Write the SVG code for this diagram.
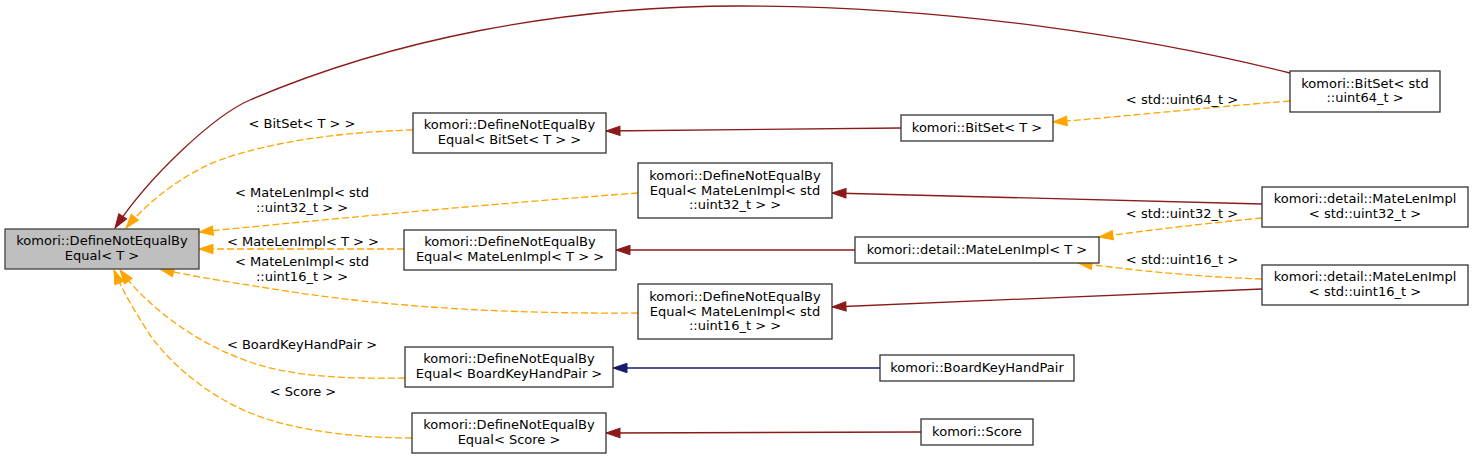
<svg xmlns="http://www.w3.org/2000/svg" width="1473" height="459" viewBox="0 0 1473 459">
<style>
text{font-family:"DejaVu Sans","Liberation Sans",sans-serif;font-size:13px;fill:#000;text-anchor:middle}
.n rect{fill:#fff;stroke:#333;stroke-width:1.3}
.n.root rect{fill:#bfbfbf;stroke:#404040}
.e path{fill:none;stroke-width:1.3}
.red{stroke:#8b1a1a;marker-end:url(#mr)}
.blue{stroke:#191970;marker-end:url(#mb)}
.tmpl{stroke:#ffa500;stroke-dasharray:7,3;marker-end:url(#mo)}
</style>
<defs>
<marker id="mr" markerUnits="userSpaceOnUse" markerWidth="16" markerHeight="12" refX="14" refY="5.5" orient="auto" overflow="visible"><path d="M0,0.8 L14,5.5 L0,10.2 Z" fill="#8b1a1a" stroke="#8b1a1a" stroke-width="1"/></marker>
<marker id="mb" markerUnits="userSpaceOnUse" markerWidth="16" markerHeight="12" refX="14" refY="5.5" orient="auto" overflow="visible"><path d="M0,0.8 L14,5.5 L0,10.2 Z" fill="#191970" stroke="#191970" stroke-width="1"/></marker>
<marker id="mo" markerUnits="userSpaceOnUse" markerWidth="16" markerHeight="12" refX="14" refY="5.5" orient="auto" overflow="visible"><path d="M0,0.8 L14,5.5 L0,10.2 Z" fill="#ffa500" stroke="#ffa500" stroke-width="1"/></marker>
</defs>
<g id="connectors" class="e">
<path class="red" d="M1290,73 C1150,38 950,6 740,6 C560,6 390,40 250,100 C215,115 150,175 115,228"/>
<path class="tmpl" d="M1290,101 C1200,108 1120,117 1053,122"/>
<path class="red" d="M901,128 L606,131"/>
<path class="tmpl" d="M413,130 C340,132 270,142 220,160 C180,175 145,205 126,228"/>
<path class="red" d="M1262,204 C1100,200 950,195 832,193"/>
<path class="tmpl" d="M1262,218 C1200,224 1150,230 1099,237"/>
<path class="tmpl" d="M638,193 C500,203 320,220 199,232"/>
<path class="red" d="M855,250 L616,250"/>
<path class="tmpl" d="M404,249 L199,249"/>
<path class="tmpl" d="M1262,279 C1200,277 1140,271 1078,263"/>
<path class="red" d="M1262,289 C1100,296 950,302 832,307"/>
<path class="tmpl" d="M638,313 C520,314 400,308 300,293 C240,284 190,276 160,269"/>
<path class="blue" d="M880,368 L613,368"/>
<path class="tmpl" d="M405,378 C340,379 290,376 250,362 C200,345 150,310 120,270"/>
<path class="red" d="M921,432 L606,433"/>
<path class="tmpl" d="M412,438 C360,438 310,432 270,420 C220,405 175,370 150,335 C135,312 122,290 114,270"/>
</g>
<g id="edge-labels">
<text x="1182" y="104">&lt; std::uint64_t &gt;</text>
<text x="302" y="127.5">&lt; BitSet&lt; T &gt; &gt;</text>
<text x="302" y="197">&lt; MateLenImpl&lt; std</text>
<text x="302" y="211.5">::uint32_t &gt; &gt;</text>
<text x="1182" y="217.5">&lt; std::uint32_t &gt;</text>
<text x="303" y="246">&lt; MateLenImpl&lt; T &gt; &gt;</text>
<text x="1182" y="263.5">&lt; std::uint16_t &gt;</text>
<text x="302" y="266">&lt; MateLenImpl&lt; std</text>
<text x="302" y="280.7">::uint16_t &gt; &gt;</text>
<text x="302" y="348.5">&lt; BoardKeyHandPair &gt;</text>
<text x="303" y="395.5">&lt; Score &gt;</text>
</g>
<g id="root" class="n root"><rect x="5" y="229" width="194" height="40"/><text x="102" y="245">komori::DefineNotEqualBy</text><text x="102" y="259.7">Equal&lt; T &gt;</text></g>
<g id="dne_bitset" class="n"><rect x="413" y="113" width="193" height="40"/><text x="509.5" y="129">komori::DefineNotEqualBy</text><text x="509.5" y="143.7">Equal&lt; BitSet&lt; T &gt; &gt;</text></g>
<g id="dne_mate32" class="n"><rect x="638" y="163" width="194" height="55"/><text x="735" y="180">komori::DefineNotEqualBy</text><text x="735" y="194.5">Equal&lt; MateLenImpl&lt; std</text><text x="735" y="209.2">::uint32_t &gt; &gt;</text></g>
<g id="dne_mateT" class="n"><rect x="404" y="230" width="212" height="40"/><text x="510" y="246">komori::DefineNotEqualBy</text><text x="510" y="260.7">Equal&lt; MateLenImpl&lt; T &gt; &gt;</text></g>
<g id="dne_mate16" class="n"><rect x="638" y="284" width="194" height="55"/><text x="735" y="301">komori::DefineNotEqualBy</text><text x="735" y="315.5">Equal&lt; MateLenImpl&lt; std</text><text x="735" y="330.2">::uint16_t &gt; &gt;</text></g>
<g id="dne_bkhp" class="n"><rect x="405" y="347" width="208" height="40"/><text x="509" y="363">komori::DefineNotEqualBy</text><text x="509" y="377.7">Equal&lt; BoardKeyHandPair &gt;</text></g>
<g id="dne_score" class="n"><rect x="412" y="413" width="194" height="40"/><text x="509" y="429">komori::DefineNotEqualBy</text><text x="509" y="443.7">Equal&lt; Score &gt;</text></g>
<g id="bitsetT" class="n"><rect x="901" y="115" width="152" height="26"/><text x="977" y="132">komori::BitSet&lt; T &gt;</text></g>
<g id="mateT" class="n"><rect x="855" y="237" width="244" height="26"/><text x="977" y="254">komori::detail::MateLenImpl&lt; T &gt;</text></g>
<g id="bkhp" class="n"><rect x="880" y="355" width="194" height="26"/><text x="977" y="372">komori::BoardKeyHandPair</text></g>
<g id="score" class="n"><rect x="921" y="419" width="112" height="26"/><text x="977" y="436">komori::Score</text></g>
<g id="bitset64" class="n"><rect x="1290" y="71" width="150" height="41"/><text x="1365" y="87.5">komori::BitSet&lt; std</text><text x="1365" y="102">::uint64_t &gt;</text></g>
<g id="mate32" class="n"><rect x="1262" y="187" width="206" height="40"/><text x="1365" y="203">komori::detail::MateLenImpl</text><text x="1365" y="217.7">&lt; std::uint32_t &gt;</text></g>
<g id="mate16" class="n"><rect x="1262" y="265" width="206" height="40"/><text x="1365" y="281">komori::detail::MateLenImpl</text><text x="1365" y="295.7">&lt; std::uint16_t &gt;</text></g>
</svg>
